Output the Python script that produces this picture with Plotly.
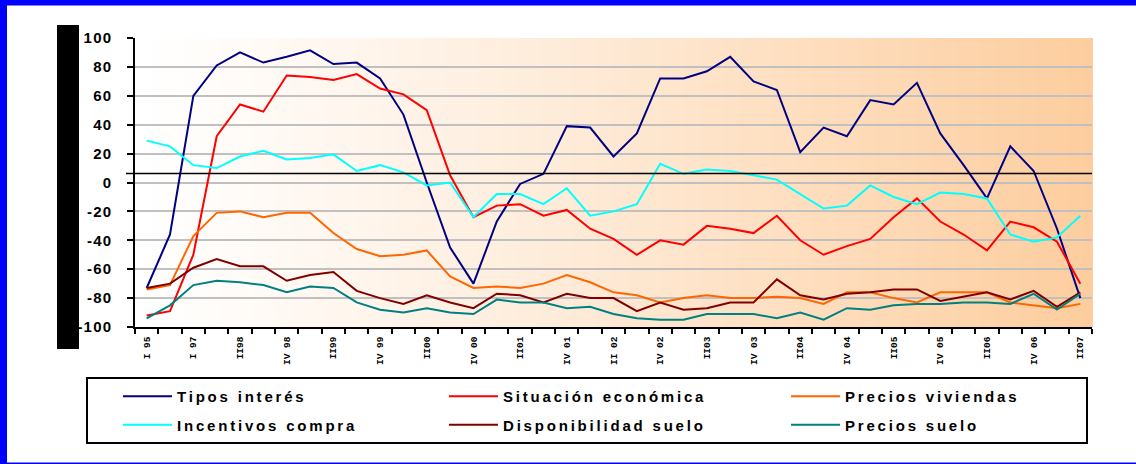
import plotly.graph_objects as go

# Quarter labels (only every second one is shown on the axis)
periods = [
    "I 95", "I 96", "I 97", "I 98", "II98", "III 98", "IV 98", "I 99", "II99", "III 99",
    "IV 99", "I 00", "II00", "III 00", "IV 00", "I 01", "II01", "III 01", "IV 01", "I 02",
    "II 02", "III 02", "IV 02", "I 03", "II03", "III 03", "IV 03", "I 04", "II04", "III 04",
    "IV 04", "I 05", "II05", "III 05", "IV 05", "I 06", "II06", "III 06", "IV 06", "I 07",
    "II07",
]

tipos_interes = [
    -73, -36, 60, 81, 90, 83, 87, 91.5, 82, 83,
    72, 47, 0, -45, -70, -27, -1, 6, 39, 38,
    18, 34, 72, 72, 77, 87, 70, 64, 21, 38,
    32, 57, 54, 69, 34, 12, -11, 25, 8, -32,
    -80,
]
situacion_economica = [
    -92, -89, -50, 32, 54, 49, 74, 73, 71, 75,
    65, 61, 50, 5, -24, -16, -15, -23, -19, -32,
    -39, -50, -40, -43, -30, -32, -35, -23, -40, -50,
    -44, -39, -24, -11, -27, -36, -47, -27, -31, -41,
    -70,
]
precios_viviendas = [
    -74, -71, -37, -21, -20, -24, -21, -21, -35, -46,
    -51, -50, -47, -65, -73, -72, -73, -70, -64, -69,
    -76, -78, -83, -80, -78, -80, -80, -79, -80, -84,
    -76, -76, -80, -83, -76, -76, -76, -83, -85, -87,
    -84,
]
incentivos_compra = [
    29, 25, 12, 10, 18, 22, 16, 17, 19.5, 8,
    12, 7, -2, 0, -24, -8, -8, -15, -4, -23,
    -20, -15, 13, 6, 9, 8, 5, 2, -8, -18,
    -16, -2, -10, -15, -7, -8, -11, -36, -41, -38,
    -23,
]
disponibilidad_suelo = [
    -73, -70, -59, -53, -58, -58, -68, -64, -62, -75,
    -80, -84, -78, -83, -87, -77, -78, -83, -77, -80,
    -80, -89, -83, -88, -87, -83, -83, -67, -78, -81,
    -77, -76, -74, -74, -82, -79, -76, -81, -75, -86,
    -76,
]
precios_suelo = [
    -94, -85, -71, -68, -69, -71, -76, -72, -73, -83,
    -88, -90, -87, -90, -91, -81, -83, -83, -87, -86,
    -91, -94, -95, -95, -91, -91, -91, -94, -90, -95,
    -87, -88, -85, -84, -84, -83, -83, -84, -77, -88,
    -77,
]

y_ticks = [100, 80, 60, 40, 20, 0, -20, -40, -60, -80, -100]
reference_level = 6.2

series = [
    ("Tipos interés", tipos_interes, "#000080", "legend"),
    ("Situación económica", situacion_economica, "#FF0000", "legend2"),
    ("Precios viviendas", precios_viviendas, "#FF6600", "legend3"),
    ("Incentivos compra", incentivos_compra, "#00FFFF", "legend"),
    ("Disponibilidad suelo", disponibilidad_suelo, "#800000", "legend2"),
    ("Precios suelo", precios_suelo, "#008080", "legend3"),
]

FONT = "Liberation Sans, Arial, sans-serif"


def spaced(text, px):
    return f'<span style="letter-spacing:{px}px">{text}</span>'


x = list(range(len(periods)))

fig = go.Figure()
for name, values, color, legend in series:
    fig.add_trace(go.Scatter(
        x=x, y=values, mode="lines", name=spaced(name, 2.8),
        line=dict(color=color, width=2),
        legend=legend, legendgroup=name,
    ))

# Plot-area layout in pixels (figure is 1136 x 464)
W, H = 1136, 464
L, R, T, B = 135, 44, 38, 137
pw, ph = W - L - R, H - T - B


def px_x(v):
    return (v - L) / pw


def px_y(v):
    return (H - B - v) / ph


shapes = []

# Horizontal white -> peach gradient behind the plot area
n_strips = 120
c0 = (255, 255, 255)
c1 = (253, 205, 158)
for i in range(n_strips):
    t = ((i + 0.5) / n_strips) ** 1.15
    col = tuple(round(a + (b - a) * t) for a, b in zip(c0, c1))
    shapes.append(dict(
        type="rect", xref="paper", yref="paper", layer="below",
        x0=i / n_strips, x1=(i + 1) / n_strips + 0.001, y0=0, y1=1,
        fillcolor=f"rgb{col}", line=dict(width=0),
    ))

# Frame: blue top band, left band and bottom rule
shapes += [
    dict(type="rect", xref="paper", yref="paper", layer="below",
         x0=px_x(0), x1=px_x(W), y0=px_y(5.5), y1=px_y(0),
         fillcolor="#0000FF", line=dict(width=0)),
    dict(type="rect", xref="paper", yref="paper", layer="below",
         x0=px_x(0), x1=px_x(7), y0=px_y(H), y1=px_y(0),
         fillcolor="#0000FF", line=dict(width=0)),
    dict(type="rect", xref="paper", yref="paper", layer="below",
         x0=px_x(0), x1=px_x(W), y0=px_y(H), y1=px_y(462.5),
         fillcolor="#0000FF", line=dict(width=0)),
    # black bar on the left
    dict(type="rect", xref="paper", yref="paper", layer="below",
         x0=px_x(57), x1=px_x(79), y0=px_y(349), y1=px_y(25),
         fillcolor="#000000", line=dict(width=0)),
    # legend box
    dict(type="rect", xref="paper", yref="paper", layer="below",
         x0=px_x(87), x1=px_x(1087), y0=px_y(443), y1=px_y(378),
         fillcolor="rgba(0,0,0,0)", line=dict(color="#000000", width=2)),
    # reference level line
    dict(type="line", xref="paper", yref="y", layer="above",
         x0=px_x(126), x1=1, y0=reference_level, y1=reference_level,
         line=dict(color="#000000", width=1.5)),
]

legend_common = dict(
    orientation="v", bgcolor="rgba(0,0,0,0)", borderwidth=0,
    font=dict(family=FONT, size=15, color="#000000", weight="bold"),
    xanchor="left", yanchor="top", tracegroupgap=6, itemwidth=49,
)

fig.update_layout(
    width=W, height=H,
    margin=dict(l=L, r=R, t=T, b=B, pad=0),
    paper_bgcolor="#FFFFFF",
    plot_bgcolor="rgba(0,0,0,0)",
    shapes=shapes,
    showlegend=True,
    legend=dict(legend_common, x=px_x(118), y=px_y(380)),
    legend2=dict(legend_common, x=px_x(444), y=px_y(380)),
    legend3=dict(legend_common, x=px_x(786), y=px_y(380)),
    xaxis=dict(
        range=[-0.5, len(periods) - 0.5],
        tickmode="array",
        tickvals=x[::2],
        ticktext=periods[::2],
        tickangle=-90,
        ticks="",
        tickfont=dict(family="Liberation Mono, Courier New, monospace", size=9.5,
                      color="#000000", weight="bold"),
        showgrid=False, zeroline=False,
        showline=True, linecolor="#000000", linewidth=1.5,
        minor=dict(tickmode="array",
                   tickvals=[i - 0.5 for i in range(len(periods) + 1)],
                   ticks="outside", ticklen=5, tickcolor="#000000",
                   tickwidth=1.5, showgrid=False),
        ticklabelstandoff=4,
    ),
    yaxis=dict(
        range=[-100, 100],
        tickmode="array",
        tickvals=y_ticks,
        ticktext=[spaced(str(v), 1.2) for v in y_ticks],
        ticks="outside", ticklen=6, tickcolor="#000000", tickwidth=1.5,
        tickfont=dict(family=FONT, size=15, color="#000000", weight="bold"),
        showgrid=True, gridcolor="#C0C0C0", gridwidth=2,
        zeroline=False,
        showline=True, linecolor="#000000", linewidth=1.5,
        ticklabelstandoff=12,
    ),
)

fig.write_html("out.html")
